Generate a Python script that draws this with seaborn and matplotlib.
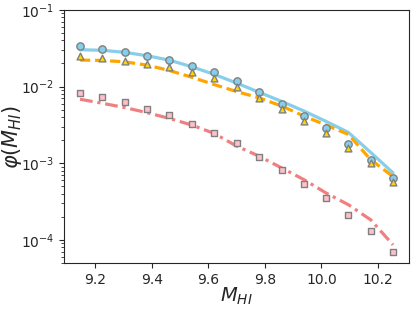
import matplotlib
matplotlib.use("Agg")
import matplotlib.pyplot as plt
import seaborn as sns
import numpy as np
import pandas as pd

# Bin centres (log HI mass)
m_hi = [9.147, 9.226, 9.305, 9.384, 9.462, 9.542, 9.621, 9.700,
        9.780, 9.859, 9.938, 10.016, 10.095, 10.174, 10.253]

# Observed mass functions (markers)
phi_circles = [0.0334, 0.0308, 0.0282, 0.0250, 0.0223, 0.0188, 0.0154, 0.0118,
               0.00841, 0.00591, 0.00411, 0.00284, 0.00177, 0.00111, 0.000641]
phi_triangles = [0.0252, 0.0235, 0.0217, 0.0198, 0.0181, 0.0155, 0.0128, 0.0098,
                 0.0071, 0.00504, 0.00351, 0.00247, 0.00159, 0.00099, 0.000562]
phi_squares = [0.00824, 0.00731, 0.00636, 0.00515, 0.00430, 0.00327, 0.00247, 0.00181,
               0.00122, 0.000816, 0.000541, 0.000354, 0.000210, 0.000131, 0.0000687]

# Model curves (lines)
phi_line_blue = [0.0302, 0.0297, 0.0279, 0.0252, 0.0221, 0.0181, 0.0144, 0.0111,
                 0.0084, 0.0064, 0.00479, 0.00351, 0.00252, 0.00138, 0.000746]
phi_line_orange = [0.0221, 0.0219, 0.0210, 0.0190, 0.0162, 0.0132, 0.0106, 0.0086,
                   0.0071, 0.00557, 0.00412, 0.00314, 0.00237, 0.00111, 0.000667]
phi_line_red = [0.00682, 0.00604, 0.00531, 0.00456, 0.00384, 0.00314, 0.00244, 0.00167,
                0.00123, 0.000867, 0.000609, 0.000408, 0.000287, 0.000182, 0.0000857]

x_ticks = [9.2, 9.4, 9.6, 9.8, 10.0, 10.2]

sns.set_style("ticks")
plt.rcParams['font.family'] = ['DejaVu Sans']
plt.rcParams['xtick.major.size'] = 3.5
plt.rcParams['ytick.major.size'] = 3.5
plt.rcParams['xtick.minor.size'] = 2
plt.rcParams['ytick.minor.size'] = 2

fig = plt.figure(figsize=(4.15, 3.09), dpi=100)
ax = fig.add_axes([0.154, 0.148, 0.832, 0.820])

sns.lineplot(x=m_hi, y=phi_line_blue, ax=ax, color="skyblue", linewidth=2.3,
             linestyle="-", zorder=2)
l_or = sns.lineplot(x=m_hi, y=phi_line_orange, ax=ax, color="orange", linewidth=2.3,
                    zorder=2).lines[-1]
l_or.set_dashes((3.2, 1.5))
l_red = sns.lineplot(x=m_hi, y=phi_line_red, ax=ax, color="lightcoral", linewidth=2.3,
                     zorder=2).lines[-1]
l_red.set_dashes((4.0, 1.5, 1.0, 1.5))

sns.scatterplot(x=m_hi, y=phi_circles, ax=ax, marker="o", color="skyblue",
                edgecolor="gray", linewidth=1.0, s=28, zorder=3)
sns.scatterplot(x=m_hi, y=phi_triangles, ax=ax, marker="^", color="gold",
                edgecolor="gray", linewidth=1.0, s=24, zorder=3)
sns.scatterplot(x=m_hi, y=phi_squares, ax=ax, marker="s", color="pink",
                edgecolor="gray", linewidth=1.0, s=18, zorder=3)

ax.set_yscale("log")
ax.set_ylim(10**-4.307, 0.1)
ax.set_xlim(9.09, 10.31)
ax.set_xticks(x_ticks)
ax.set_xticklabels([f"{t:.1f}" for t in x_ticks])
ax.tick_params(labelsize=10)
ax.set_xlabel(r"$M_{HI}$", fontsize=14, labelpad=-1)
ax.set_ylabel(r"$\varphi(M_{HI})$", fontsize=15)
ax.yaxis.set_label_coords(-0.115, 0.5)

fig.savefig("out.png", dpi=100)
